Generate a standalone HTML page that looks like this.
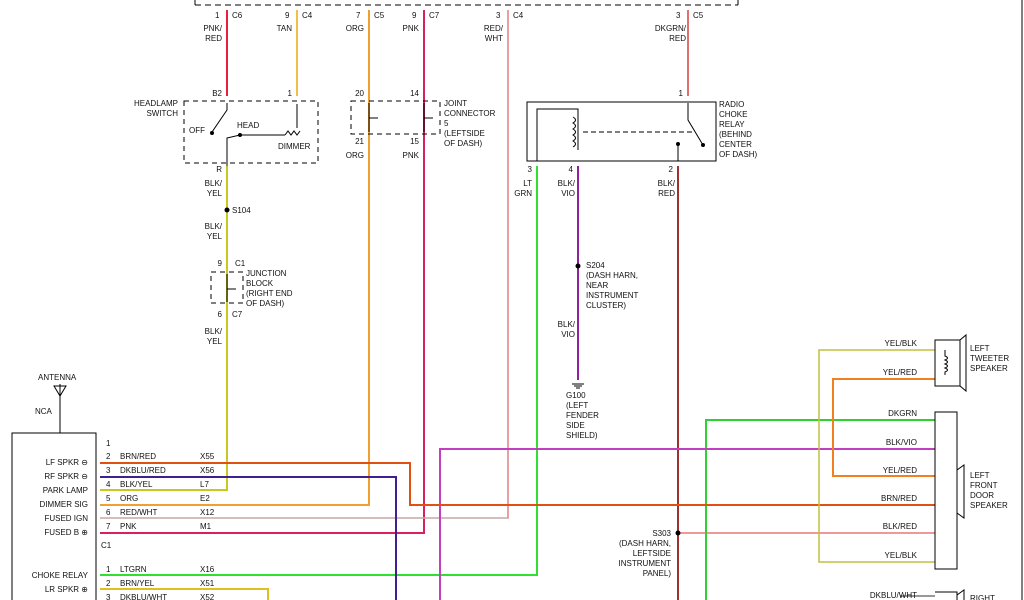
<!DOCTYPE html>
<html><head><meta charset="utf-8"><style>
body{margin:0;background:#fff}
svg{display:block}
text{font-family:"Liberation Sans",sans-serif;font-size:8px;fill:#111}
.r{text-anchor:end}.m{text-anchor:middle}
</style></head><body>
<svg width="1024" height="600" viewBox="0 0 1024 600">
<g fill="none" stroke-width="2">
<path d="M195 0V5" stroke="#000" stroke-width="1"/>
<path d="M195 5H738" stroke="#000" stroke-width="1" stroke-dasharray="6,4"/>
<path d="M738 0V5" stroke="#000" stroke-width="1"/>
<path d="M1022 0V600" stroke="#000" stroke-width="1"/>
<path d="M227 10V96" stroke="#e82040"/>
<path d="M227 166V490H100" stroke="#c8c820"/>
<path d="M297 10V96" stroke="#f0c040"/>
<path d="M369 10V505H100" stroke="#f0a030"/>
<path d="M424 10V533H100" stroke="#d82060"/>
<path d="M508 10V518H100" stroke="#e08080" stroke-width="1.5"/>
<path d="M508 518H100" stroke="#bbb" stroke-width="1"/>
<path d="M688 10V96" stroke="#e07070"/>
<path d="M537 166V575H100" stroke="#30e030"/>
<path d="M578 166V380" stroke="#9020a0"/>
<path d="M678 166V600" stroke="#a03030"/>
<path d="M678 533H935" stroke="#e03030" stroke-width="1"/>
<path d="M706 600V420H935" stroke="#30d030"/>
<path d="M440 600V449H935" stroke="#c040c0"/>
<path d="M100 463H410V505H935" stroke="#e05010"/>
<path d="M100 477H396V600" stroke="#402090"/>
<path d="M100 589H268V600" stroke="#e0c020"/>
<path d="M935 350H819V562H935" stroke="#c0c040" stroke-width="1.5"/>
<path d="M935 379H833V476H935" stroke="#f08020"/>
<path d="M935 596H900" stroke="#333" stroke-width="1"/>
</g>
<g fill="none" stroke="#000" stroke-width="1">
<rect x="184" y="101" width="134" height="62" stroke-dasharray="5,4"/>
<rect x="351" y="101" width="89" height="33" stroke-dasharray="5,4"/>
<rect x="211" y="272" width="32" height="31" stroke-dasharray="5,4"/>
<rect x="527" y="102" width="189" height="59"/>
<path d="M537 161V109H578V150M578 116v28"/>
<path d="M583 132H692" stroke-dasharray="5,3"/>
<path d="M573 117q5 3 0 6q5 3 0 6q5 3 0 6q5 3 0 6q5 3 0 6"/>
<path d="M688 103V120L703 145M678 161V145"/>
<circle cx="703" cy="145" r="1.5" fill="#000"/><circle cx="678" cy="144" r="1.5" fill="#000"/>
<path d="M227 103V110L212 132M227 166V138L240 135H285M297 104V128"/>
<path d="M285 135l3-4 3 4 3-4 3 4 3-4"/>
<circle cx="212" cy="133" r="1.5" fill="#000"/><circle cx="240" cy="135" r="1.5" fill="#000"/>
<text x="205" y="133" class="r" stroke="none">OFF</text>
<path d="M369 103V132M369 118H378M424 103V132M424 118H433"/>
<path d="M227 274V302M227 289H236"/>
<rect x="12" y="433" width="84" height="180"/>
<path d="M60 384V433M54 386H66L60 396Z"/>
<rect x="935" y="340" width="25" height="46"/>
<path d="M960 340L966 335V391L960 386"/>
<path d="M945 350v6q5 2 0 4q5 2 0 4q5 2 0 4q5 2 0 4v3"/>
<rect x="935" y="412" width="22" height="157"/>
<path d="M957 470L964 465V518L957 513"/>
<path d="M935 592H957V600M957 595L964 590V600"/>
<path d="M572 384H584M574 386H582M576 388H580"/>
</g>
<g fill="#000">
<circle cx="227" cy="210" r="2.5"/><circle cx="578" cy="266" r="2.5"/><circle cx="678" cy="533" r="2.5"/>
</g>
<text x="215" y="18">1</text><text x="232" y="18">C6</text>
<text x="285" y="18">9</text><text x="302" y="18">C4</text>
<text x="356" y="18">7</text><text x="374" y="18">C5</text>
<text x="412" y="18">9</text><text x="429" y="18">C7</text>
<text x="496" y="18">3</text><text x="513" y="18">C4</text>
<text x="676" y="18">3</text><text x="693" y="18">C5</text>
<text x="222" y="31" class="r">PNK/</text><text x="222" y="41" class="r">RED</text>
<text x="292" y="31" class="r">TAN</text>
<text x="364" y="31" class="r">ORG</text>
<text x="419" y="31" class="r">PNK</text>
<text x="503" y="31" class="r">RED/</text><text x="503" y="41" class="r">WHT</text>
<text x="686" y="31" class="r">DKGRN/</text><text x="686" y="41" class="r">RED</text>
<text x="222" y="96" class="r">B2</text><text x="292" y="96" class="r">1</text>
<text x="178" y="106" class="r">HEADLAMP</text><text x="178" y="116" class="r">SWITCH</text>
<text x="237" y="128">HEAD</text><text x="278" y="149">DIMMER</text>
<text x="222" y="172" class="r">R</text>
<text x="222" y="186" class="r">BLK/</text><text x="222" y="196" class="r">YEL</text>
<text x="232" y="213">S104</text>
<text x="222" y="229" class="r">BLK/</text><text x="222" y="239" class="r">YEL</text>
<text x="222" y="266" class="r">9</text><text x="235" y="266">C1</text>
<text x="246" y="276">JUNCTION</text><text x="246" y="286">BLOCK</text><text x="246" y="296">(RIGHT END</text><text x="246" y="306">OF DASH)</text>
<text x="222" y="317" class="r">6</text><text x="232" y="317">C7</text>
<text x="222" y="334" class="r">BLK/</text><text x="222" y="344" class="r">YEL</text>
<text x="364" y="96" class="r">20</text><text x="419" y="96" class="r">14</text>
<text x="444" y="106">JOINT</text><text x="444" y="116">CONNECTOR</text><text x="444" y="126">5</text><text x="444" y="136">(LEFTSIDE</text><text x="444" y="146">OF DASH)</text>
<text x="364" y="144" class="r">21</text><text x="419" y="144" class="r">15</text>
<text x="364" y="158" class="r">ORG</text><text x="419" y="158" class="r">PNK</text>
<text x="683" y="96" class="r">1</text>
<text x="719" y="107">RADIO</text><text x="719" y="117">CHOKE</text><text x="719" y="127">RELAY</text><text x="719" y="137">(BEHIND</text><text x="719" y="147">CENTER</text><text x="719" y="157">OF DASH)</text>
<text x="532" y="172" class="r">3</text><text x="573" y="172" class="r">4</text><text x="673" y="172" class="r">2</text>
<text x="532" y="186" class="r">LT</text><text x="532" y="196" class="r">GRN</text>
<text x="575" y="186" class="r">BLK/</text><text x="575" y="196" class="r">VIO</text>
<text x="675" y="186" class="r">BLK/</text><text x="675" y="196" class="r">RED</text>
<text x="586" y="268">S204</text><text x="586" y="278">(DASH HARN,</text><text x="586" y="288">NEAR</text><text x="586" y="298">INSTRUMENT</text><text x="586" y="308">CLUSTER)</text>
<text x="575" y="327" class="r">BLK/</text><text x="575" y="337" class="r">VIO</text>
<text x="566" y="398">G100</text><text x="566" y="408">(LEFT</text><text x="566" y="418">FENDER</text><text x="566" y="428">SIDE</text><text x="566" y="438">SHIELD)</text>
<text x="671" y="536" class="r">S303</text><text x="671" y="546" class="r">(DASH HARN,</text><text x="671" y="556" class="r">LEFTSIDE</text><text x="671" y="566" class="r">INSTRUMENT</text><text x="671" y="576" class="r">PANEL)</text>
<text x="38" y="380">ANTENNA</text><text x="35" y="414">NCA</text>
<text x="88" y="465" class="r">LF SPKR ⊖</text><text x="88" y="479" class="r">RF SPKR ⊖</text>
<text x="88" y="493" class="r">PARK LAMP</text><text x="88" y="507" class="r">DIMMER SIG</text>
<text x="88" y="521" class="r">FUSED IGN</text><text x="88" y="535" class="r">FUSED B ⊕</text>
<text x="88" y="578" class="r">CHOKE RELAY</text><text x="88" y="592" class="r">LR SPKR ⊕</text>
<text x="106" y="446">1</text>
<text x="106" y="459">2</text><text x="120" y="459">BRN/RED</text><text x="200" y="459">X55</text>
<text x="106" y="473">3</text><text x="120" y="473">DKBLU/RED</text><text x="200" y="473">X56</text>
<text x="106" y="487">4</text><text x="120" y="487">BLK/YEL</text><text x="200" y="487">L7</text>
<text x="106" y="501">5</text><text x="120" y="501">ORG</text><text x="200" y="501">E2</text>
<text x="106" y="515">6</text><text x="120" y="515">RED/WHT</text><text x="200" y="515">X12</text>
<text x="106" y="529">7</text><text x="120" y="529">PNK</text><text x="200" y="529">M1</text>
<text x="101" y="548">C1</text>
<text x="106" y="572">1</text><text x="120" y="572">LTGRN</text><text x="200" y="572">X16</text>
<text x="106" y="586">2</text><text x="120" y="586">BRN/YEL</text><text x="200" y="586">X51</text>
<text x="106" y="600">3</text><text x="120" y="600">DKBLU/WHT</text><text x="200" y="600">X52</text>
<text x="917" y="346" class="r">YEL/BLK</text><text x="917" y="375" class="r">YEL/RED</text>
<text x="917" y="416" class="r">DKGRN</text><text x="917" y="445" class="r">BLK/VIO</text>
<text x="917" y="473" class="r">YEL/RED</text><text x="917" y="501" class="r">BRN/RED</text>
<text x="917" y="529" class="r">BLK/RED</text><text x="917" y="558" class="r">YEL/BLK</text>
<text x="917" y="598" class="r">DKBLU/WHT</text>
<text x="970" y="351">LEFT</text><text x="970" y="361">TWEETER</text><text x="970" y="371">SPEAKER</text>
<text x="970" y="478">LEFT</text><text x="970" y="488">FRONT</text><text x="970" y="498">DOOR</text><text x="970" y="508">SPEAKER</text>
<text x="970" y="601">RIGHT</text>
</svg>
</body></html>
